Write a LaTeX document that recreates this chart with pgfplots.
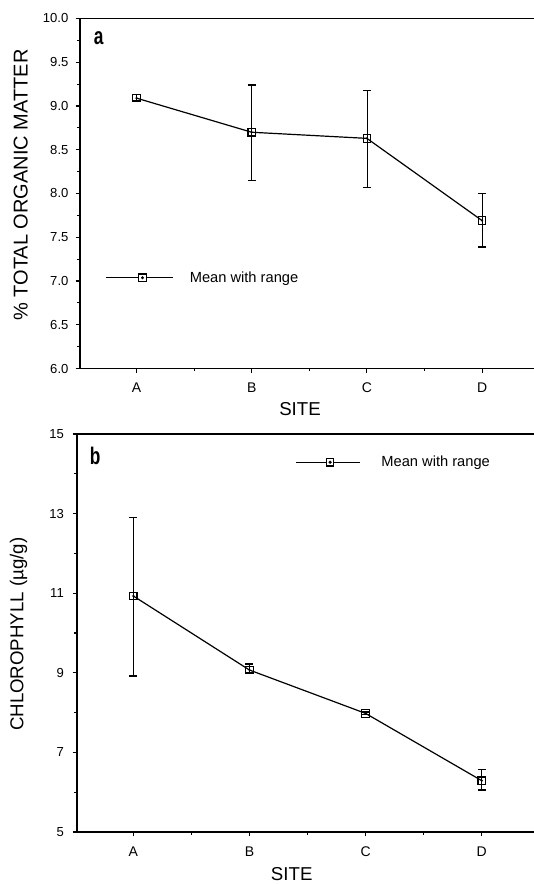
\documentclass[border=0pt]{standalone}
\usepackage{pgfplots}
\pgfplotsset{compat=1.18}
\usepackage{fontspec}
\setmainfont{Liberation Sans}
\usepackage{graphicx}

\pgfplotsset{
  panel/.style={
    scale only axis,
    anchor=south west,
    axis x line=box, axis y line=left,
    x axis line style={-, line width=1.0pt},
    y axis line style={-, line width=1.1pt},
    xtick pos=left, ytick pos=left,
    tick align=outside,
    major tick length=3.2pt, minor tick length=2pt,
    every tick/.style={black, line width=0.8pt},
    xtick={1,2,3,4}, xticklabels={A,B,C,D},
    minor xtick={1.5,2.5,3.5},
    xticklabel style={font=\fontsize{10.5}{12}\selectfont, inner sep=0pt, yshift=-7.5pt},
    yticklabel style={font=\fontsize{9.8}{11}\selectfont, inner sep=0pt},
    /pgf/number format/assume math mode=true,
    label style={font=\fontsize{14}{16}\selectfont},
    xlabel={SITE},
    legend cell align=left,
  },
  meanline/.style={black, line width=0.9pt, mark=square, mark size=2.8pt,
    mark options={fill=white, solid, line width=0.9pt},
    error bars/.cd, y dir=both, y explicit,
    error bar style={line width=0.6pt},
    error mark options={rotate=90, mark size=3pt, line width=1.1pt}},
  dots/.style={only marks, mark=*, mark size=0.6pt, black, forget plot},
}

\begin{document}
\begin{tikzpicture}
% ---------------- panel a ----------------
\begin{axis}[panel,
  at={(60pt,-276.375pt)},
  width=340.5pt, height=262.5pt,
  xmin=0.51, xmax=4.45, ymin=6, ymax=10,
  ytick={6,6.5,...,10}, minor y tick num=1,
  yticklabel style={/pgf/number format/.cd, fixed, fixed zerofill, precision=1, /tikz/.cd, xshift=-5.3pt},
  ylabel={\% TOTAL ORGANIC MATTER},
  ylabel style={at={(axis description cs:-0.1304,0.524)}, anchor=center, font=\fontsize{15}{17}\selectfont},
  xlabel style={at={(axis description cs:0.4846,0)}, anchor=north, inner sep=0pt, yshift=-25pt},
  legend style={at={(axis description cs:0.0551,0.2594)}, anchor=west, draw=none, fill=none,
    inner sep=0pt, column sep=0pt, font=\fontsize{11}{13}\selectfont, nodes={inner sep=0pt}},
  legend image code/.code={
    \draw[black, line width=0.9pt] (0pt,0pt) -- (50pt,0pt);
    \draw[black, line width=0.9pt, fill=white] (24.7pt,-2.8pt) rectangle (30.3pt,2.8pt);
    \fill[black] (27.5pt,0pt) circle (0.6pt);
    \path (62.5pt,0pt);
  },
]
\addplot+[meanline] coordinates {
  (1,9.09) += (0,0.04) -= (0,0.03)
  (2,8.70) += (0,0.54) -= (0,0.55)
  (3,8.63) += (0,0.55) -= (0,0.56)
  (4,7.69) += (0,0.31) -= (0,0.30)
};
\addlegendentry{Mean with range}
\addplot[dots] coordinates {(1,9.09) (2,8.70) (3,8.63) (4,7.69)};
\node[font=\fontsize{18}{18}\selectfont\bfseries] at (rel axis cs:0.041,0.944) {\scalebox{0.72}[1]{a}};
\end{axis}

% ---------------- panel b ----------------
\begin{axis}[panel,
  at={(57.75pt,-624pt)},
  width=342.75pt, height=298.5pt,
  xmin=0.515, xmax=4.45, ymin=5, ymax=15,
  ytick={5,7,...,15}, minor y tick num=1,
  yticklabel style={xshift=-6.5pt},
  ylabel={CHLOROPHYLL (µg/g)},
  ylabel style={at={(axis description cs:-0.128,0.497)}, anchor=center},
  xlabel style={at={(axis description cs:0.4698,0)}, anchor=north, inner sep=0pt, yshift=-26.5pt},
  legend style={at={(axis description cs:0.477,0.929)}, anchor=west, draw=none, fill=none,
    inner sep=0pt, column sep=0pt, font=\fontsize{11}{13}\selectfont, nodes={inner sep=0pt}},
  legend image code/.code={
    \draw[black, line width=0.9pt] (0pt,0pt) -- (48pt,0pt);
    \draw[black, line width=0.9pt, fill=white] (22.9pt,-2.8pt) rectangle (28.5pt,2.8pt);
    \fill[black] (25.7pt,0pt) circle (0.6pt);
    \path (63.75pt,0pt);
  },
]
\addplot+[meanline] coordinates {
  (1,10.93) += (0,1.97) -= (0,2.01)
  (2,9.07)  += (0,0.15) -= (0,0.07)
  (3,7.98)  += (0,0.03) -= (0,0.03)
  (4,6.29)  += (0,0.28) -= (0,0.23)
};
\addlegendentry{Mean with range}
\addplot[dots] coordinates {(1,10.93) (2,9.07) (3,7.98) (4,6.29)};
\node[font=\fontsize{18}{18}\selectfont\bfseries] at (rel axis cs:0.040,0.945) {\scalebox{0.72}[1]{b}};
\end{axis}

\pgfresetboundingbox
\useasboundingbox (0pt,0pt) rectangle (400.5pt,-663pt);
\end{tikzpicture}
\end{document}
